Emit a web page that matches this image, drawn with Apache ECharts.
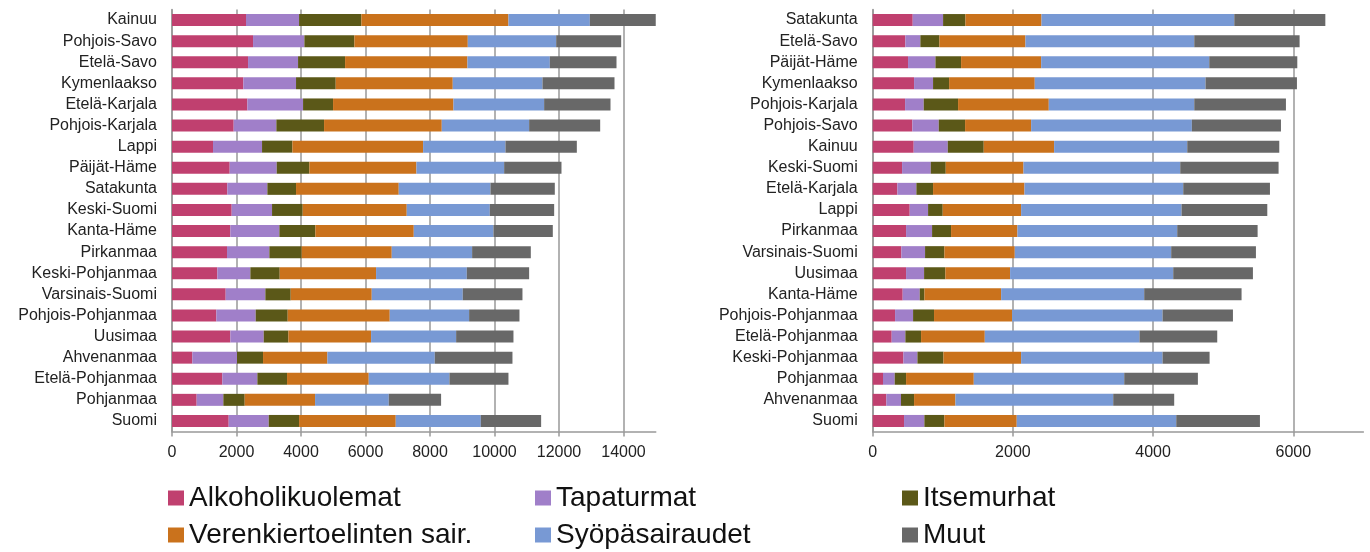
<!DOCTYPE html>
<html>
<head>
<meta charset="utf-8">
<script src="https://cdn.jsdelivr.net/npm/echarts@6/dist/echarts.min.js"></script>
<style>
  html, body { margin: 0; padding: 0; background: #fff; }
  #chart { width: 1370px; height: 552px; }
</style>
</head>
<body>
<div id="chart"></div>
<script>
const seriesNames = ["Alkoholikuolemat", "Tapaturmat", "Itsemurhat", "Verenkiertoelinten sair.", "Syöpäsairaudet", "Muut"];
const colors = ["#c0406f", "#a07fc9", "#5b5818", "#ca721c", "#7899d4", "#686868"];

// left chart
const leftRegions = ["Kainuu", "Pohjois-Savo", "Etelä-Savo", "Kymenlaakso", "Etelä-Karjala", "Pohjois-Karjala", "Lappi", "Päijät-Häme", "Satakunta", "Keski-Suomi", "Kanta-Häme", "Pirkanmaa", "Keski-Pohjanmaa", "Varsinais-Suomi", "Pohjois-Pohjanmaa", "Uusimaa", "Ahvenanmaa", "Etelä-Pohjanmaa", "Pohjanmaa", "Suomi"];
const leftAlko  = [2295, 2513, 2358, 2213, 2337, 1913, 1272, 1789, 1716, 1851, 1810, 1706, 1406, 1665, 1375, 1810, 631, 1561, 765, 1758];
const leftTapa  = [1645, 1592, 1551, 1633, 1727, 1323, 1520, 1458, 1241, 1251, 1519, 1313, 1024, 1230, 1220, 1034, 1385, 1086, 827, 1241];
const leftItse  = [1933, 1551, 1458, 1231, 930, 1479, 941, 1013, 889, 951, 1117, 1003, 910, 786, 993, 765, 807, 920, 662, 941];
const leftVeren = [4560, 3516, 3794, 3629, 3733, 3650, 4053, 3319, 3185, 3226, 3051, 2792, 2988, 2513, 3164, 2564, 1995, 2534, 2182, 2998];
const leftSyopa = [2523, 2740, 2554, 2782, 2812, 2709, 2554, 2720, 2844, 2575, 2471, 2492, 2813, 2822, 2461, 2637, 3330, 2502, 2285, 2637];
const leftMuut  = [2089, 2016, 2068, 2233, 2058, 2203, 2213, 1778, 1995, 1996, 1840, 1820, 1933, 1851, 1561, 1778, 2409, 1830, 1623, 1871];

// right chart
const rightRegions = ["Satakunta", "Etelä-Savo", "Päijät-Häme", "Kymenlaakso", "Pohjois-Karjala", "Pohjois-Savo", "Kainuu", "Keski-Suomi", "Etelä-Karjala", "Lappi", "Pirkanmaa", "Varsinais-Suomi", "Uusimaa", "Kanta-Häme", "Pohjois-Pohjanmaa", "Etelä-Pohjanmaa", "Keski-Pohjanmaa", "Pohjanmaa", "Ahvenanmaa", "Suomi"];
const rightAlko  = [571, 466, 504, 590, 462, 566, 585, 419, 352, 528, 476, 409, 476, 428, 319, 271, 438, 147, 195, 447];
const rightTapa  = [433, 214, 391, 271, 266, 376, 486, 409, 271, 262, 371, 338, 257, 243, 257, 195, 200, 167, 209, 290];
const rightItse  = [319, 272, 366, 229, 490, 376, 513, 214, 238, 209, 271, 276, 304, 67, 299, 224, 371, 162, 186, 286];
const rightVeren = [1085, 1227, 1142, 1222, 1294, 942, 1004, 1109, 1304, 1118, 947, 1004, 923, 1094, 1114, 909, 1108, 966, 590, 1032];
const rightSyopa = [2750, 2408, 2398, 2436, 2075, 2293, 1899, 2236, 2265, 2289, 2279, 2231, 2327, 2041, 2146, 2207, 2018, 2146, 2251, 2275];
const rightMuut  = [1299, 1503, 1256, 1304, 1308, 1271, 1313, 1403, 1237, 1223, 1147, 1209, 1137, 1389, 1004, 1109, 671, 1051, 870, 1194];

const leftData = [leftAlko, leftTapa, leftItse, leftVeren, leftSyopa, leftMuut];
const rightData = [rightAlko, rightTapa, rightItse, rightVeren, rightSyopa, rightMuut];

const font = "'Liberation Sans', Arial, sans-serif";
const gridGray = "#999";

const mkX = (gridIndex, max) => ({
  type: "value",
  gridIndex,
  min: 0,
  max,
  interval: 2000,
  axisLine: { show: true, lineStyle: { color: gridGray, width: 1.5 } },
  axisTick: { show: true, length: 5, lineStyle: { color: gridGray, width: 1.5 } },
  axisLabel: { color: "#222", fontSize: 16, fontFamily: font, margin: 13, showMaxLabel: false, formatter: (v) => String(v) },
  splitLine: { show: true, showMaxLine: false, lineStyle: { color: gridGray, width: 1.5 } },
});

const mkY = (gridIndex, names) => ({
  type: "category",
  gridIndex,
  inverse: true,
  data: names,
  axisLine: { show: true, lineStyle: { color: gridGray, width: 1.5 } },
  axisTick: { show: false },
  axisLabel: { color: "#222", fontSize: 16, fontFamily: font, margin: 15 },
});

const mkSeries = (data, axisIndex) => seriesNames.map((name, i) => ({
  name,
  type: "bar",
  stack: "s" + axisIndex,
  xAxisIndex: axisIndex,
  yAxisIndex: axisIndex,
  barWidth: 12,
  itemStyle: { color: colors[i] },
  data: data[i],
}));

const mkLegend = (left, items) => ({
  left,
  top: 484,
  padding: 0,
  orient: "vertical",
  data: items,
  icon: "rect",
  itemWidth: 16,
  itemHeight: 15,
  itemGap: 9,
  textStyle: { color: "#111", fontSize: 28, fontFamily: font, lineHeight: 28 },
});

const chart = echarts.init(document.getElementById("chart"));
chart.setOption({
  animation: false,
  grid: [
    { left: 172, width: 483.75, top: 9.5, height: 422 },
    { left: 872.7, width: 490.7, top: 9.5, height: 422 },
  ],
  xAxis: [mkX(0, 15000), mkX(1, 7000)],
  yAxis: [mkY(0, leftRegions), mkY(1, rightRegions)],
  legend: [
    mkLegend(168, [seriesNames[0], seriesNames[3]]),
    mkLegend(535, [seriesNames[1], seriesNames[4]]),
    mkLegend(902, [seriesNames[2], seriesNames[5]]),
  ],
  series: [...mkSeries(leftData, 0), ...mkSeries(rightData, 1)],
});
</script>
</body>
</html>
